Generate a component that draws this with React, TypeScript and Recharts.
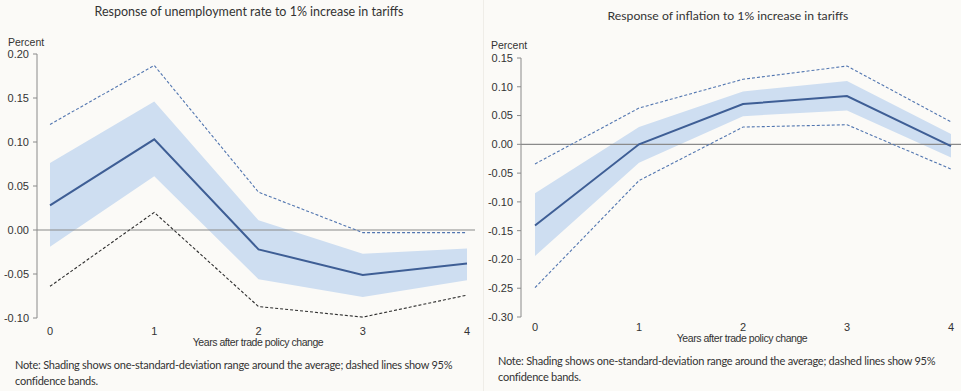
import React from "react";
import { ComposedChart, Line, Area, XAxis, YAxis, ReferenceLine } from "recharts";

const years = [0, 1, 2, 3, 4];

const unempMean = [0.028, 0.103, -0.022, -0.051, -0.038];
const unempBandHi = [0.076, 0.146, 0.011, -0.027, -0.021];
const unempBandLo = [-0.019, 0.061, -0.056, -0.076, -0.057];
const unempCiHi = [0.12, 0.187, 0.043, -0.003, -0.003];
const unempCiLo = [-0.064, 0.02, -0.087, -0.099, -0.074];

const inflMean = [-0.141, 0.0, 0.07, 0.084, -0.003];
const inflBandHi = [-0.085, 0.03, 0.092, 0.11, 0.018];
const inflBandLo = [-0.194, -0.032, 0.049, 0.059, -0.023];
const inflCiHi = [-0.034, 0.063, 0.113, 0.136, 0.039];
const inflCiLo = [-0.249, -0.063, 0.03, 0.034, -0.043];

const unempTicks = [-0.1, -0.05, 0, 0.05, 0.1, 0.15, 0.2];
const inflTicks = [-0.3, -0.25, -0.2, -0.15, -0.1, -0.05, 0, 0.05, 0.1, 0.15];

const leftTitle = "Response of unemployment rate to 1% increase in tariffs";
const rightTitle = "Response of inflation to 1% increase in tariffs";
const xTitle = "Years after trade policy change";
const yTitle = "Percent";
const noteLine1 = "Note: Shading shows one-standard-deviation range around the average; dashed lines show 95%";
const noteLine2 = "confidence bands.";

const BG = "#fbfaf7";
const BAND = "#cedef1";
const MEAN = "#3e5e95";
const DASH = "#5276b0";
const AXIS = "#8a8a8a";
const TICKFONT = "'Liberation Sans', Arial, sans-serif";
const TEXTFONT = "Lato, 'Open Sans', sans-serif";

function build(mean: number[], hi: number[], lo: number[], ciHi: number[], ciLo: number[]) {
  return years.map((x, i) => ({
    x,
    mean: mean[i],
    band: [lo[i], hi[i]],
    ciHi: ciHi[i],
    ciLo: ciLo[i],
  }));
}

const leftData = build(unempMean, unempBandHi, unempBandLo, unempCiHi, unempCiLo);
const rightData = build(inflMean, inflBandHi, inflBandLo, inflCiHi, inflCiLo);

type PanelProps = {
  data: any[];
  width: number;
  height: number;
  top: number;
  bottom: number;
  yWidth: number;
  padL: number;
  padR: number;
  domain: [number, number];
  ticks: number[];
  loColor: string;
  xTickMargin: number;
};

function Panel(p: PanelProps) {
  return (
    <ComposedChart
      width={p.width}
      height={p.height}
      data={p.data}
      margin={{ top: p.top, right: 0, left: 0, bottom: p.bottom }}
    >
      <XAxis
        type="number"
        dataKey="x"
        domain={[0, 4]}
        ticks={years}
        padding={{ left: p.padL, right: p.padR }}
        axisLine={false}
        tickLine={false}
        tickSize={0}
        tickMargin={p.xTickMargin}
        tick={{ fontSize: 11, fill: "#333", fontFamily: TICKFONT }}
        height={30}
      />
      <YAxis
        type="number"
        domain={p.domain}
        ticks={p.ticks}
        width={p.yWidth}
        interval={0}
        tickFormatter={(v: number) => v.toFixed(2)}
        axisLine={{ stroke: AXIS, strokeWidth: 1 }}
        tickLine={{ stroke: AXIS }}
        tickSize={4}
        tickMargin={4}
        tick={{ fontSize: 11, fill: "#333", fontFamily: TICKFONT }}
        allowDataOverflow
      />
      <Area
        type="linear"
        dataKey="band"
        stroke="none"
        fill={BAND}
        fillOpacity={1}
        isAnimationActive={false}
        activeDot={false}
      />
      <ReferenceLine y={0} stroke={AXIS} strokeWidth={1.2} />
      <Line
        type="linear"
        dataKey="ciHi"
        stroke={DASH}
        strokeWidth={1.1}
        strokeDasharray="3 2"
        dot={false}
        isAnimationActive={false}
      />
      <Line
        type="linear"
        dataKey="ciLo"
        stroke={p.loColor}
        strokeWidth={1.1}
        strokeDasharray="3 2"
        dot={false}
        isAnimationActive={false}
      />
      <Line
        type="linear"
        dataKey="mean"
        stroke={MEAN}
        strokeWidth={2}
        dot={false}
        isAnimationActive={false}
      />
    </ComposedChart>
  );
}

const abs = (left: number, top: number, extra: React.CSSProperties = {}): React.CSSProperties => ({
  position: "absolute",
  left,
  top,
  whiteSpace: "nowrap",
  ...extra,
});

export default function App() {
  return (
    <div style={{ position: "absolute", left: 0, top: 0, width: 961, height: 391, background: BG, overflow: "hidden" }}>
      <div style={abs(483, 0, { width: 1, height: 391, background: "#efede8" })} />

      {/* Left panel */}
      <div style={abs(0, 0)}>
        <Panel
          data={leftData}
          width={475}
          height={391}
          top={54}
          bottom={43}
          yWidth={37}
          padL={13}
          padR={8}
          domain={[-0.1, 0.2]}
          ticks={unempTicks}
          loColor="#2d2d2d"
          xTickMargin={9}
        />
      </div>
      <div style={abs(0, 4, { width: 498, textAlign: "center", fontFamily: TEXTFONT, fontSize: 12.5, color: "#333" })}>{leftTitle}</div>
      <div style={abs(8, 36, { fontFamily: TICKFONT, fontSize: 10.5, color: "#333" })}>{yTitle}</div>
      <div style={abs(178, 336, { width: 160, textAlign: "center", fontFamily: TICKFONT, fontSize: 10.5, color: "#333", letterSpacing: -0.45 })}>{xTitle}</div>
      <div style={abs(15, 357, { fontFamily: TEXTFONT, fontSize: 11, color: "#333", lineHeight: "16px", letterSpacing: -0.25 })}>
        {noteLine1}
        <br />
        {noteLine2}
      </div>

      {/* Right panel */}
      <div style={abs(482, 0)}>
        <Panel
          data={rightData}
          width={479}
          height={391}
          top={58}
          bottom={44}
          yWidth={39}
          padL={14}
          padR={10}
          domain={[-0.3, 0.15]}
          ticks={inflTicks}
          loColor={DASH}
          xTickMargin={6}
        />
      </div>
      <div style={abs(478, 8, { width: 500, textAlign: "center", fontFamily: TEXTFONT, fontSize: 12.2, color: "#333" })}>{rightTitle}</div>
      <div style={abs(491, 39, { fontFamily: TICKFONT, fontSize: 10.5, color: "#333" })}>{yTitle}</div>
      <div style={abs(662, 332, { width: 160, textAlign: "center", fontFamily: TICKFONT, fontSize: 10.5, color: "#333", letterSpacing: -0.45 })}>{xTitle}</div>
      <div style={abs(498, 353, { fontFamily: TEXTFONT, fontSize: 11, color: "#333", lineHeight: "16px", letterSpacing: -0.25 })}>
        {noteLine1}
        <br />
        {noteLine2}
      </div>
    </div>
  );
}
